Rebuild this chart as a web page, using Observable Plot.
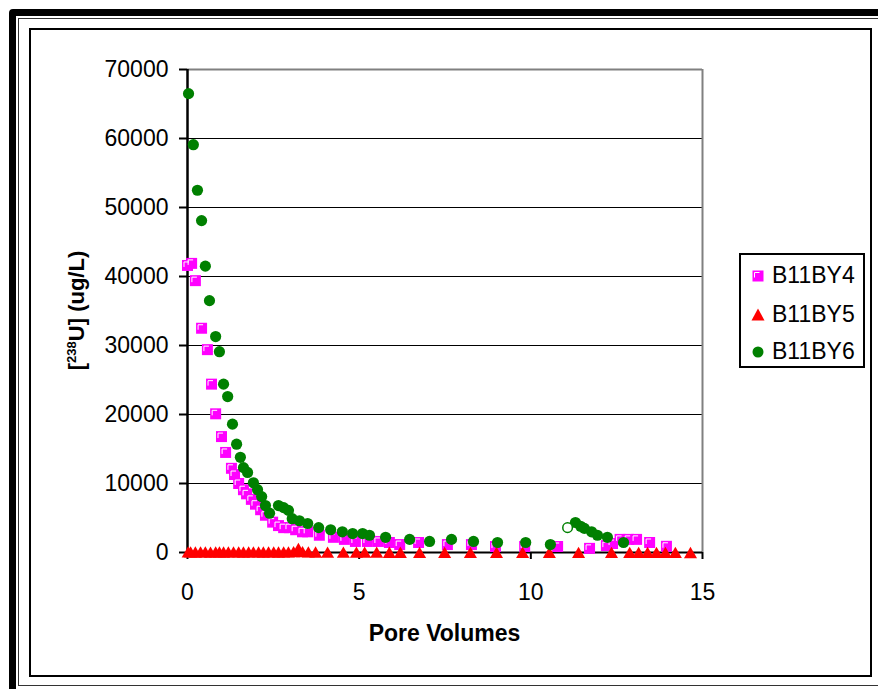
<!DOCTYPE html>
<html>
<head>
<meta charset="utf-8">
<script src="https://cdn.jsdelivr.net/npm/d3@7"></script>
<script src="https://cdn.jsdelivr.net/npm/@observablehq/plot@0.6"></script>
<style>
  html, body { margin: 0; padding: 0; background: white; }
  #wrap { position: relative; width: 878px; height: 689px; overflow: hidden; background: white;
          font-family: "Liberation Sans", Arial, sans-serif; }
  #chart { position: absolute; left: 0; top: 0; }
  .frame { position: absolute; box-sizing: border-box; pointer-events: none; }
  #legend { position: absolute; left: 739px; top: 253px; width: 126px; height: 115px;
            box-sizing: border-box; border: 2px solid black; background: white; }
  .entry { position: absolute; left: 0; height: 30px; width: 124px; }
  .entry svg { position: absolute; left: 5px; top: 3px; }
  .entry span { position: absolute; left: 31px; top: 1px; font-size: 23px; line-height: 26px; color: black; }
</style>
</head>
<body>
<div id="wrap">
  <div id="chart"></div>
  <div class="frame" style="left:9px;top:9px;width:900px;height:700px;border:7px solid black;border-radius:4px;"></div>
  <div class="frame" style="left:18px;top:18px;width:900px;height:668px;border:1.5px solid #333;"></div>
  <div class="frame" style="left:29px;top:28px;width:843px;height:649px;border:2px solid black;"></div>
  <div id="legend"></div>
</div>
<script>
// ---- data ----
const seriesNames = ["B11BY4", "B11BY5", "B11BY6"];
const seriesColors = ["#FF00FF", "#FF0000", "#008000"];

const xTicks = [0, 5, 10, 15];
const yTicks = [0, 10000, 20000, 30000, 40000, 50000, 60000, 70000];

const by4X = [0.00, 0.12, 0.23, 0.41, 0.58, 0.70, 0.82, 0.99, 1.11, 1.28, 1.37, 1.49, 1.63, 1.72, 1.86, 1.98,
  2.13, 2.27, 2.48, 2.65, 2.80, 2.97, 3.15, 3.35, 3.50, 3.84, 4.25, 4.57, 4.89, 5.24, 5.56, 5.88, 6.18,
  6.73, 7.57, 8.27, 8.97, 9.82, 10.78, 11.71, 12.20, 12.38, 12.60, 12.85, 13.08, 13.46, 13.95];
const by4Y = [41600, 41900, 39400, 32500, 29400, 24400, 20100, 16800, 14500, 12200, 11300, 10000, 9100, 8500, 7700, 7000,
  6200, 5400, 4400, 3900, 3600, 3600, 3300, 3000, 3000, 2500, 2200, 1900, 1600, 1600, 1600, 1450, 1150,
  1450, 1150, 1150, 870, 870, 870, 600, 1000, 1300, 1900, 1900, 1900, 1450, 900];

const by5X = [0.02, 0.09, 0.23, 0.38, 0.52, 0.67, 0.82, 0.93, 1.05, 1.19, 1.34, 1.49, 1.63, 1.78, 1.92, 2.07, 2.21,
  2.36, 2.51, 2.65, 2.80, 2.94, 3.09, 3.23, 3.35, 3.52, 3.73, 4.08, 4.54, 4.92, 5.16, 5.51, 5.88, 6.20,
  6.76, 7.49, 8.24, 9.00, 9.76, 10.54, 11.39, 12.35, 12.88, 13.14, 13.40, 13.66, 13.92, 14.21, 14.65];
const by5Y = [120, 100, 90, 110, 100, 80, 100, 120, 90, 100, 110, 100, 90, 100, 110, 100, 90,
  100, 110, 90, 100, 120, 150, 600, 150, 100, 90, 80, 70, 60, 70, 60, 50, 50,
  40, 40, 40, 30, 30, 30, 30, 30, 40, 30, 30, 30, 30, 30, 20];

const by6X = [0.03, 0.17, 0.29, 0.41, 0.52, 0.64, 0.82, 0.93, 1.05, 1.17, 1.31, 1.43, 1.54, 1.63, 1.75, 1.92,
  2.04, 2.16, 2.27, 2.39, 2.65, 2.80, 2.94, 3.05, 3.26, 3.50, 3.82, 4.17, 4.51, 4.81, 5.10, 5.30, 5.77,
  6.47, 7.05, 7.69, 8.33, 9.03, 9.85, 10.57, 11.30, 11.45, 11.56, 11.77, 11.94, 12.23, 12.70];
const by6Y = [66500, 59100, 52500, 48100, 41500, 36500, 31300, 29100, 24400, 22600, 18600, 15700, 13800, 12300, 11600, 10100,
  9100, 8100, 6800, 5700, 6800, 6500, 6100, 4900, 4600, 4200, 3600, 3300, 3000, 2750, 2750, 2500, 2200,
  1900, 1600, 1900, 1600, 1450, 1450, 1150, 4350, 3800, 3500, 3000, 2500, 2200, 1450];

const by6OpenX = [11.07];
const by6OpenY = [3600];

// ---- build tables ----
const zip = (xs, ys) => xs.map((x, i) => ({x, y: ys[i]}));
const by4 = zip(by4X, by4Y);
const by5 = zip(by5X, by5Y);
const by6 = zip(by6X, by6Y);
const by6Open = zip(by6OpenX, by6OpenY);

// custom symbols
const squareSym = { draw(ctx, size) { const s = Math.sqrt(size) / 2; ctx.rect(-s, -s, 2 * s, 2 * s); } };
const hlSym = { draw(ctx, size) { const s = Math.sqrt(size) / 2; ctx.moveTo(-s + 2, s - 4); ctx.lineTo(-s + 2, -s + 2); ctx.lineTo(s - 4, -s + 2); } };

const font = "'Liberation Sans', Arial, sans-serif";

const chart = Plot.plot({
  width: 878,
  height: 689,
  marginLeft: 187,
  marginRight: 176,
  marginTop: 69,
  marginBottom: 137,
  style: { fontFamily: font, fontSize: "23px", color: "black", background: "transparent", overflow: "visible" },
  x: { domain: [0, 15] },
  y: { domain: [0, 70000] },
  marks: [
    Plot.ruleY(yTicks.filter(d => d > 0 && d < 70000), { stroke: "black", strokeWidth: 1 }),
    Plot.ruleY([70000], { stroke: "#808080", strokeWidth: 2 }),
    Plot.ruleX([15], { stroke: "#808080", strokeWidth: 2 }),
    Plot.axisY({ ticks: yTicks, tickSize: 8, tickPadding: 11, tickFormat: d => String(d), label: null, strokeWidth: 2, stroke: "black", fill: "black" }),
    Plot.axisX({ ticks: xTicks, tickSize: 7, tickPadding: 24, tickFormat: d => String(d), label: null, strokeWidth: 2, stroke: "black", fill: "black" }),
    Plot.ruleY([0], { stroke: "black", strokeWidth: 2 }),
    Plot.ruleX([0], { stroke: "black", strokeWidth: 2.5 }),
    Plot.dot(by4, { x: "x", y: "y", symbol: squareSym, r: 6.2, fill: seriesColors[0], stroke: "none" }),
    Plot.dot(by4, { x: "x", y: "y", symbol: hlSym, r: 6.2, fill: "none", stroke: "white", strokeWidth: 1 }),
    Plot.dot(by5, { x: "x", y: "y", symbol: "triangle", r: 4.85, fill: seriesColors[1], stroke: "none", dy: 2 }),
    Plot.dot(by6, { x: "x", y: "y", r: 5.6, fill: seriesColors[2], stroke: "none" }),
    Plot.dot(by6Open, { x: "x", y: "y", r: 4.8, fill: "white", stroke: seriesColors[2], strokeWidth: 1.5 })
  ]
});

document.getElementById("chart").appendChild(chart);

// axis titles
const svg = d3.select(chart);
const xs = chart.scale("x"), ys = chart.scale("y");
svg.append("text")
  .attr("x", xs.apply(7.5)).attr("y", 633).attr("dy", "0.35em")
  .attr("text-anchor", "middle").attr("font-weight", "bold").attr("font-size", 23)
  .attr("font-family", font).attr("fill", "black")
  .text("Pore Volumes");

const yl = svg.append("text")
  .attr("transform", `translate(76, ${ys.apply(35000)}) rotate(-90)`)
  .attr("dy", "0.35em")
  .attr("text-anchor", "middle").attr("font-weight", "bold").attr("font-size", 22)
  .attr("font-family", font).attr("fill", "black");
yl.append("tspan").text("[");
yl.append("tspan").attr("font-size", 13).attr("dy", -8).text("238");
yl.append("tspan").attr("dy", 8).text("U] (ug/L)");

// legend
const legend = d3.select("#legend");
const markerSvgs = [
  `<svg width="24" height="24" viewBox="-12 -12 24 24"><rect x="-5.5" y="-5.5" width="11" height="11" fill="${seriesColors[0]}"/><path d="M-3.5,1.5V-3.5H1.5" fill="none" stroke="white" stroke-width="1"/></svg>`,
  `<svg width="24" height="24" viewBox="-12 -12 24 24"><path d="M0,-6.5L6.5,5.5H-6.5Z" fill="${seriesColors[1]}"/></svg>`,
  `<svg width="24" height="24" viewBox="-12 -12 24 24"><circle r="5.5" fill="${seriesColors[2]}"/></svg>`
];
const rowTops = [6, 45, 82];
seriesNames.forEach((name, i) => {
  const e = legend.append("div").attr("class", "entry").style("top", rowTops[i] + "px");
  e.html(markerSvgs[i]);
  e.append("span").text(name);
});
</script>
</body>
</html>
